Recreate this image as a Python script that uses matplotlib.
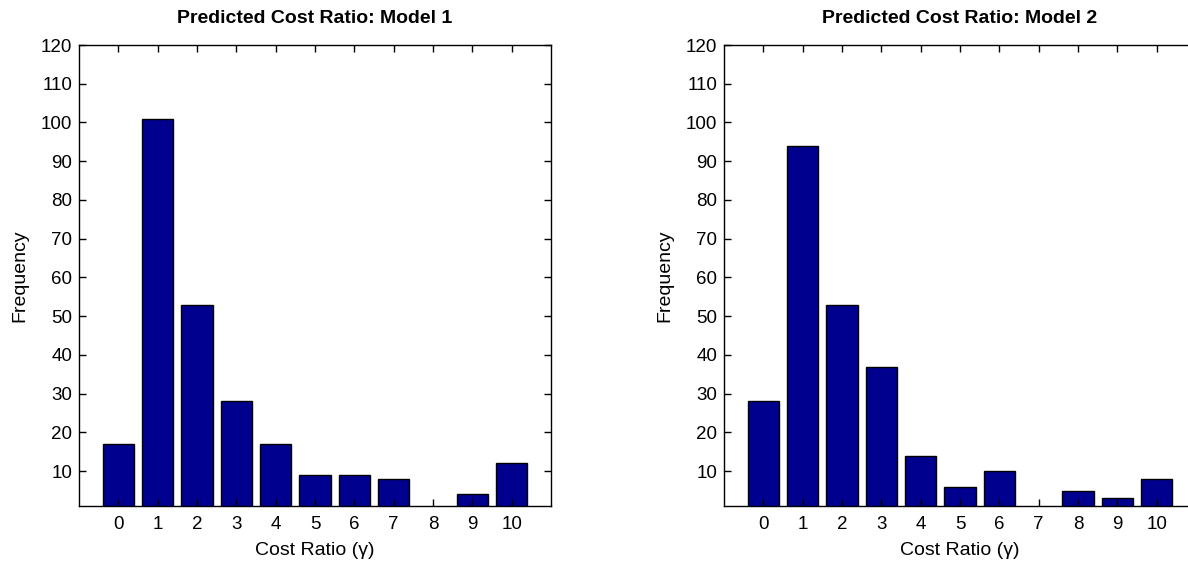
import numpy as np
import matplotlib.pyplot as plt

plt.rcParams['font.family'] = ['Liberation Sans', 'DejaVu Sans']

ratios = np.arange(0, 11)
freq_model1 = [17, 101, 53, 28, 17, 9, 9, 8, 0, 4, 12]
freq_model2 = [28, 94, 53, 37, 14, 6, 10, 0, 5, 3, 8]
titles = ['Predicted Cost Ratio: Model 1', 'Predicted Cost Ratio: Model 2']
yticks = np.arange(10, 121, 10)

BAR_COLOR = '#00008F'

fig = plt.figure(figsize=(11.88, 5.65), dpi=100)
# right panel runs off the edge of the figure, like the reference
ax1 = fig.add_axes([79 / 1188, 59 / 565, 472 / 1188, 461 / 565])
ax2 = fig.add_axes([724 / 1188, 59 / 565, 472 / 1188, 461 / 565])

for ax, freq, title in zip((ax1, ax2), (freq_model1, freq_model2), titles):
    ax.bar(ratios, freq, width=0.8, color=BAR_COLOR, edgecolor='black', linewidth=1.0)
    ax.set_xlim(-1, 11)
    ax.set_ylim(1, 120)
    ax.set_xticks(ratios)
    ax.set_yticks(yticks)
    ax.tick_params(direction='in', top=True, right=True, length=5, width=1,
                   labelsize=13.5)
    ax.tick_params(axis='x', pad=7)
    ax.tick_params(axis='y', pad=5)
    for s in ax.spines.values():
        s.set_linewidth(1.0)
    ax.set_title(title, fontsize=14, fontweight='bold', pad=16)
    ax.set_xlabel('Cost Ratio (γ)', fontsize=14, labelpad=7)
    ax.set_ylabel('Frequency', fontsize=14, labelpad=9)

fig.savefig('out.png', dpi=100)
